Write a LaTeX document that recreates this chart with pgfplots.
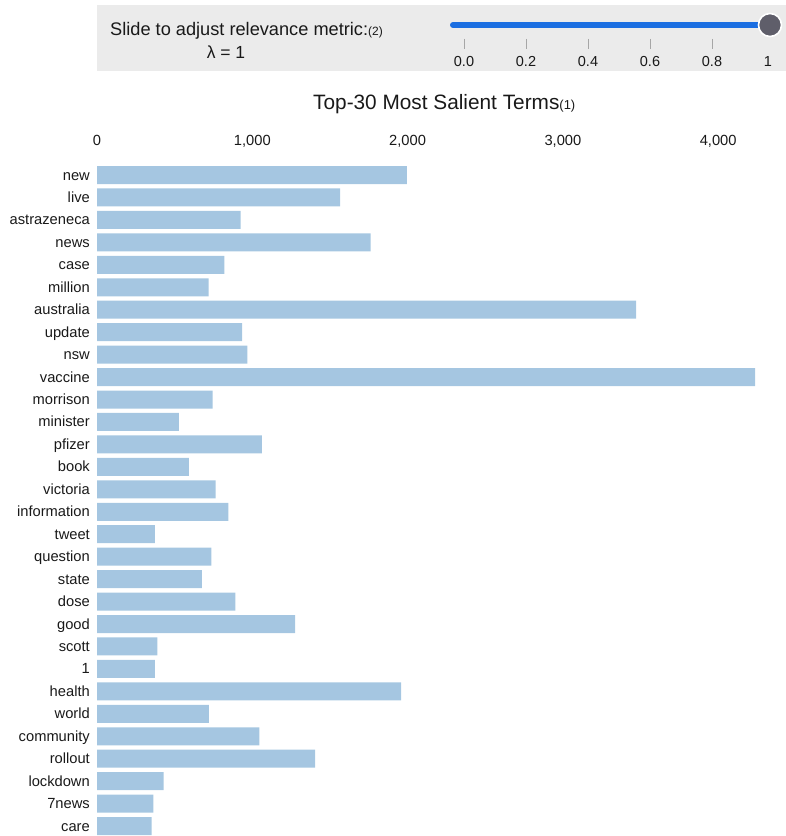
\documentclass[border=0pt]{standalone}
\usepackage{pgfplots}
\pgfplotsset{compat=1.18}
\usepackage{fontspec}
\setmainfont{Liberation Sans}
\definecolor{barblue}{RGB}{165,198,225}
\definecolor{panelgray}{RGB}{235,235,235}
\definecolor{sliderblue}{RGB}{27,110,225}
\definecolor{knob}{RGB}{95,94,106}
\definecolor{txt}{RGB}{25,25,25}
\begin{document}
\begin{tikzpicture}[x=1pt,y=1pt]
\useasboundingbox (0,0) rectangle (786,836);
% slider panel
\fill[panelgray] (97,831) rectangle (786,765);
\node[anchor=base west, inner sep=0pt, text=txt] at (110,836-36) {\fontsize{18.2}{21}\selectfont Slide to adjust relevance metric:{\fontsize{12}{14}\selectfont(2)}};
\node[anchor=base, inner sep=0pt, text=txt] at (226,836-58.5) {\fontsize{17.5}{20}\selectfont λ = 1};
\draw[sliderblue, line width=6pt, line cap=round] (453,811) -- (770,811);
\foreach \xx/\lab in {464/0.0, 526/0.2, 588/0.4, 650/0.6, 712/0.8}{
  \draw[gray!70, line width=0.8pt] (\xx,836-39) -- (\xx,836-49);
  \node[anchor=base, inner sep=0pt, text=txt] at (\xx,836-67) {\fontsize{14.5}{17}\selectfont \lab};
}
\node[anchor=base, inner sep=0pt, text=txt] at (768,836-67) {\fontsize{14.5}{17}\selectfont 1};
\fill[knob, draw=white, line width=1.6pt] (770,811) circle (11.5);
% title
\node[anchor=base west, inner sep=0pt, text=txt] at (313,836-110) {\fontsize{20.8}{24}\selectfont Top-30 Most Salient Terms{\fontsize{13}{15}\selectfont(1)}};
\begin{axis}[
  at={(97pt,672.2pt)}, anchor=north west,
  scale only axis, width=658pt, height=673.5pt,
  xmin=0, xmax=4237, ymin=-0.5, ymax=29.5, y dir=reverse,
  xbar, bar width=18pt,
  axis line style={draw=none}, major tick length=0pt,
  xtick={0,1000,2000,3000,4000},
  xticklabel pos=right,
  scaled x ticks=false,
  /pgf/number format/assume math mode=true,
  /pgf/number format/1000 sep={,},
  tick label style={font=\fontsize{14.7}{17}\selectfont, text=txt},
  xticklabel style={anchor=base, inner sep=0pt, yshift=18.5pt},
  yticklabel style={anchor=base east, inner sep=0pt, xshift=-7pt, yshift=-5pt},
  ytick={0,...,29},
  yticklabels={new,live,astrazeneca,news,case,million,australia,update,nsw,vaccine,morrison,minister,pfizer,book,victoria,information,tweet,question,state,dose,good,scott,1,health,world,community,rollout,lockdown,7news,care},
]
\addplot[xbar, fill=barblue, draw=none] coordinates {
(1996,0) (1565,1) (925,2) (1762,3) (820,4) (719,5) (3471,6) (934,7) (968,8) (4237,9)
(745,10) (528,11) (1062,12) (592,13) (764,14) (846,15) (373,16) (736,17) (676,18) (891,19)
(1275,20) (388,21) (373,22) (1958,23) (721,24) (1045,25) (1404,26) (429,27) (363,28) (352,29)
};
\end{axis}
\end{tikzpicture}
\end{document}
